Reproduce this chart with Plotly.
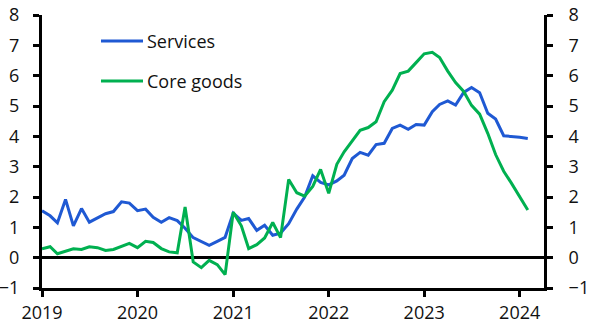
import plotly.graph_objects as go
import pandas as pd

# Monthly dates, Jan 2019 - Feb 2024
months = pd.date_range("2019-01-01", "2024-02-01", freq="MS")

services = [1.55, 1.38, 1.15, 1.92, 1.05, 1.62, 1.17, 1.30, 1.45, 1.52, 1.84, 1.80,
            1.55, 1.60, 1.33, 1.17, 1.32, 1.22, 0.97, 0.66, 0.52, 0.41, 0.54, 0.67,
            1.47, 1.23, 1.29, 0.90, 1.07, 0.74, 0.81, 1.12, 1.60, 2.00, 2.70, 2.48,
            2.40, 2.53, 2.72, 3.27, 3.47, 3.38, 3.73, 3.77, 4.26, 4.37, 4.23, 4.39,
            4.37, 4.81, 5.05, 5.17, 5.03, 5.45, 5.61, 5.44, 4.76, 4.57, 4.02, 4.00,
            3.97, 3.93]

core_goods = [0.29, 0.36, 0.13, 0.20, 0.29, 0.27, 0.36, 0.33, 0.24, 0.27, 0.38, 0.47,
              0.33, 0.54, 0.50, 0.30, 0.19, 0.16, 1.67, -0.14, -0.33, -0.09, -0.23, -0.56,
              1.50, 1.05, 0.30, 0.43, 0.65, 1.16, 0.66, 2.58, 2.14, 2.03, 2.35, 2.91,
              2.12, 3.08, 3.49, 3.87, 4.20, 4.29, 4.48, 5.14, 5.52, 6.07, 6.15, 6.43,
              6.72, 6.77, 6.60, 6.15, 5.77, 5.48, 5.02, 4.73, 4.10, 3.40, 2.85, 2.45,
              2.00, 1.57]

y_ticks = list(range(-1, 9))
series_names = ["Services", "Core goods"]
colors = ["#1F59D3", "#00B050"]

FONT = "Open Sans"
TICK_FONT = dict(family=FONT, size=18, color="#111")

fig = go.Figure()
fig.add_trace(go.Scatter(x=months, y=services, mode="lines", name=series_names[0],
                         line=dict(color=colors[0], width=3), showlegend=False))
fig.add_trace(go.Scatter(x=months, y=core_goods, mode="lines", name=series_names[1],
                         line=dict(color=colors[1], width=3), showlegend=False))
# invisible trace to activate the mirrored right axis
fig.add_trace(go.Scatter(x=[months[0]], y=[None], yaxis="y2", showlegend=False,
                         hoverinfo="skip"))

axis_common = dict(range=[-1, 8], tickvals=y_ticks, showgrid=False,
                   showline=True, linecolor="black", linewidth=3,
                   ticks="outside", ticklen=6, tickwidth=3, tickcolor="black",
                   tickfont=TICK_FONT, automargin=False)

fig.update_layout(
    width=591, height=331,
    margin=dict(l=42, r=47, t=15, b=43),
    plot_bgcolor="white", paper_bgcolor="white",
    xaxis=dict(type="date", range=["2019-01-01", "2024-04-03"],
               tickvals=pd.date_range("2019-01-01", "2024-01-01", freq="YS"),
               tickformat="%Y", showgrid=False, showline=True, linecolor="black",
               linewidth=3, ticks="outside", ticklen=6, tickwidth=3, tickcolor="black",
               ticklabelstandoff=0, automargin=False,
               tickfont=TICK_FONT, zeroline=False),
    yaxis=dict(**axis_common, side="left", zeroline=True, zerolinecolor="black",
               zerolinewidth=3, ticklabelstandoff=10),
    yaxis2=dict(**axis_common, side="right", overlaying="y", zeroline=False,
                ticklabelstandoff=12),
    showlegend=False,
)

# Legend drawn as short line samples with labels
legend_y = [0.905, 0.758]
for name, color, ly in zip(series_names, colors, legend_y):
    fig.add_shape(type="line", xref="paper", yref="paper",
                  x0=0.1175, x1=0.2012, y0=ly, y1=ly,
                  line=dict(color=color, width=3))
    fig.add_annotation(xref="paper", yref="paper", x=0.205, y=ly, text=name,
                       showarrow=False, xanchor="left", yanchor="middle",
                       font=dict(family=FONT, size=18, color="#111"))

fig.write_html("out.html")
